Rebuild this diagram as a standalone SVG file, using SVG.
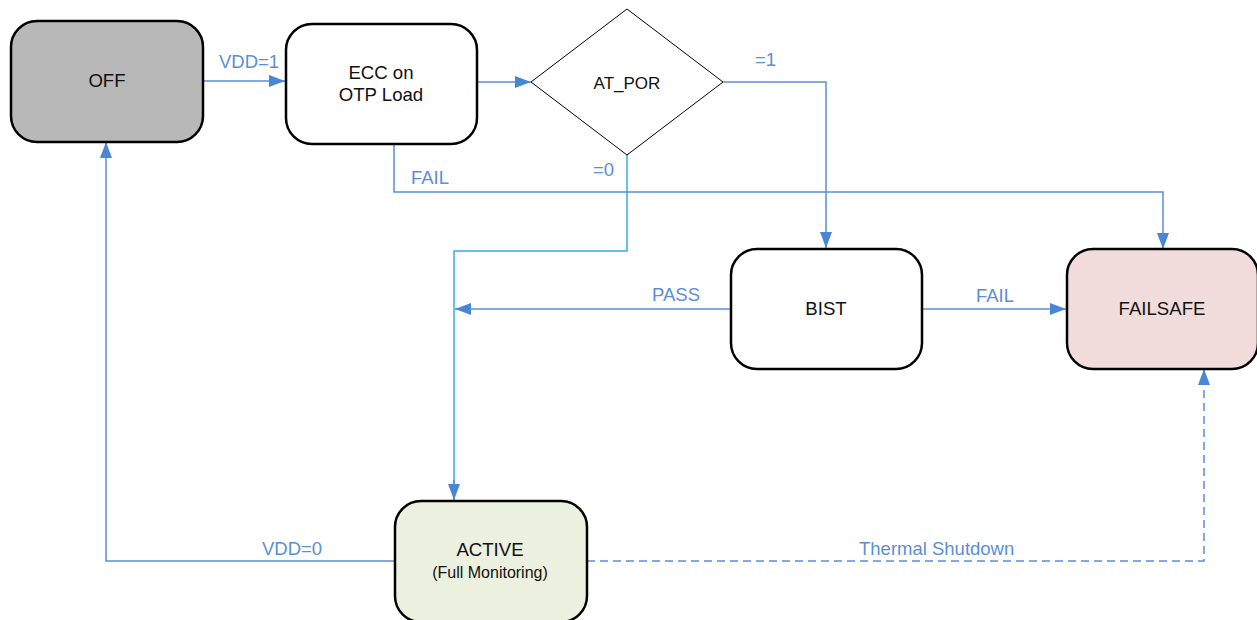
<svg xmlns="http://www.w3.org/2000/svg" width="1257" height="620" viewBox="0 0 1257 620">
<style>
.node{stroke:#000;stroke-width:2.5}
.nt{font-family:"Liberation Sans",Arial,sans-serif;font-size:18.6px;fill:#111;text-anchor:middle}
.sub{font-size:16px}
.lbl{font-family:"Liberation Sans",Arial,sans-serif;font-size:18.5px;fill:#5b8fd6}
.c{fill:none;stroke:#5a8fd8;stroke-width:1.5}
.cy{fill:none;stroke:#2db0ec;stroke-width:1.5}
.dash{stroke-dasharray:8 5}
</style>
<defs>
<marker id="ah" viewBox="0 0 16 12" refX="16" refY="6" markerWidth="16" markerHeight="12" markerUnits="userSpaceOnUse" orient="auto">
<path d="M0,0 L16,6 L0,12 Z" fill="#4a86d6"/>
</marker>
</defs>
<rect width="1257" height="620" fill="#fff"/>
<g id="connectors">
<path class="c" d="M203,81 H285" marker-end="url(#ah)"/>
<path class="c" d="M477,82 H531" marker-end="url(#ah)"/>
<path class="c" d="M723,82 H826 V248" marker-end="url(#ah)"/>
<path class="cy" d="M627,155 V251 H454 V500"/>
<path class="c" d="M454,480 V500" marker-end="url(#ah)"/>
<path class="c" d="M394,144 V192 H1163 V249" marker-end="url(#ah)"/>
<path class="c" d="M731,309 H455" marker-end="url(#ah)"/>
<path class="c" d="M922,309 H1066" marker-end="url(#ah)"/>
<path class="c" d="M394,561 H106 V142" marker-end="url(#ah)"/>
<path class="c dash" d="M587,561 H1204 V369" marker-end="url(#ah)"/>
<text class="lbl" x="219" y="68">VDD=1</text>
<text class="lbl" x="411" y="184">FAIL</text>
<text class="lbl" x="755" y="66">=1</text>
<text class="lbl" x="593" y="176">=0</text>
<text class="lbl" x="652" y="301">PASS</text>
<text class="lbl" x="976" y="302">FAIL</text>
<text class="lbl" x="262" y="555">VDD=0</text>
<text class="lbl" x="859" y="555">Thermal Shutdown</text>
</g>
<g id="off">
<rect class="node" x="11" y="21" width="192" height="121" rx="26" fill="#b8b8b8"/>
<text class="nt" x="107" y="87">OFF</text>
</g>
<g id="ecc">
<rect class="node" x="286" y="24" width="191" height="120" rx="26" fill="#fff"/>
<text class="nt" x="381" y="79">ECC on</text>
<text class="nt" x="381" y="101">OTP Load</text>
</g>
<g id="at_por">
<path d="M627,9 L723,82 L627,155 L531,82 Z" fill="#fff" stroke="#000" stroke-width="1"/>
<text class="nt" x="627" y="89" style="font-size:17px">AT_POR</text>
</g>
<g id="bist">
<rect class="node" x="731" y="249" width="191" height="120" rx="26" fill="#fff"/>
<text class="nt" x="826" y="315">BIST</text>
</g>
<g id="failsafe">
<rect class="node" x="1067" y="249" width="191" height="120" rx="26" fill="#f2dcdb"/>
<text class="nt" x="1162" y="315">FAILSAFE</text>
</g>
<g id="active">
<rect class="node" x="395" y="501" width="192" height="121" rx="26" fill="#ebf1de"/>
<text class="nt" x="490" y="556">ACTIVE</text>
<text class="nt sub" x="490" y="578">(Full Monitoring)</text>
</g>
</svg>
